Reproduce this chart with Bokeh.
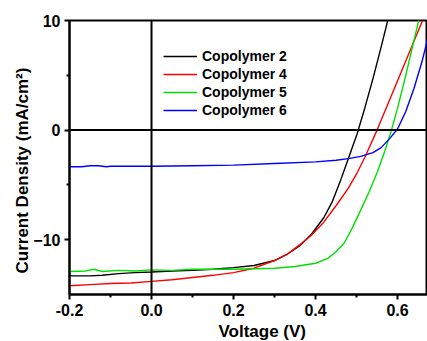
from bokeh.plotting import figure
from bokeh.models import Span, Legend, LegendItem, PrintfTickFormatter, FixedTicker, Range1d, Title
from bokeh.embed import file_html
from bokeh.resources import INLINE

# ---- data ----
x_cp2 = [-0.2, -0.15, -0.12, -0.08, -0.04, 0.0, 0.05, 0.1, 0.15, 0.2, 0.25, 0.3, 0.33, 0.36, 0.39,
         0.42, 0.44, 0.46, 0.48, 0.50, 0.52, 0.54, 0.56, 0.58]
y_cp2 = [-13.3, -13.3, -13.25, -13.1, -13.0, -12.95, -12.85, -12.8, -12.7, -12.55, -12.35, -11.9, -11.35, -10.6, -9.5,
         -8.0, -6.6, -4.7, -2.6, -0.5, 2.0, 4.7, 7.6, 10.6]

x_cp4 = [-0.2, -0.15, -0.1, -0.05, 0.0, 0.05, 0.1, 0.15, 0.2, 0.25, 0.3, 0.33, 0.36, 0.39, 0.42,
         0.45, 0.48, 0.50, 0.52, 0.55, 0.58, 0.60, 0.62, 0.64, 0.66, 0.675]
y_cp4 = [-14.2, -14.1, -14.0, -13.95, -13.8, -13.65, -13.45, -13.25, -13.0, -12.6, -11.9, -11.35, -10.5, -9.6, -8.4,
         -6.9, -5.3, -4.0, -2.5, 0.0, 2.7, 4.5, 6.3, 8.1, 9.9, 11.2]

x_cp5 = [-0.2, -0.16, -0.14, -0.12, -0.08, -0.04, 0.0, 0.05, 0.1, 0.2, 0.25, 0.3, 0.35, 0.4, 0.43,
         0.45, 0.47, 0.49, 0.51, 0.53, 0.55, 0.57, 0.585, 0.60, 0.62, 0.64, 0.655]
y_cp5 = [-12.9, -12.85, -12.7, -12.9, -12.8, -12.85, -12.75, -12.8, -12.7, -12.7, -12.65, -12.6, -12.45, -12.15, -11.7,
         -11.1, -10.3, -8.9, -7.3, -5.7, -3.9, -1.8, 0.0, 2.0, 5.0, 8.2, 10.5]

x_cp6 = [-0.2, -0.17, -0.15, -0.13, -0.11, -0.1, 0.0, 0.1, 0.2, 0.3, 0.4, 0.45, 0.48, 0.51, 0.54,
         0.56, 0.58, 0.60, 0.62, 0.64, 0.66, 0.675]
y_cp6 = [-3.35, -3.35, -3.25, -3.25, -3.35, -3.3, -3.3, -3.25, -3.2, -3.05, -2.9, -2.75, -2.6, -2.4, -2.05,
         -1.6, -0.8, 0.1, 1.7, 3.8, 6.3, 8.6]

series_names = ["Copolymer 2", "Copolymer 4", "Copolymer 5", "Copolymer 6"]
series_colors = ["#000000", "#ff0000", "#00e000", "#0000ff"]

x_ticks = [-0.2, 0.0, 0.2, 0.4, 0.6]
y_ticks = [-10, 0, 10]
x_title = "Voltage (V)"
y_title = "Current Density (mA/cm\u00b2)"

FONT = "Liberation Sans"

p = figure(width=427, height=341, output_backend="svg", toolbar_location=None,
           x_range=Range1d(-0.2, 0.673), y_range=Range1d(-15, 10),
           min_border_left=69, min_border_right=0, min_border_top=20, min_border_bottom=47)
p.background_fill_color = "white"
p.border_fill_color = "white"
p.outline_line_color = "black"
p.outline_line_width = 2
p.grid.visible = False

renderers = []
for xs, ys, c in zip([x_cp2, x_cp4, x_cp5, x_cp6], [y_cp2, y_cp4, y_cp5, y_cp6], series_colors):
    renderers.append(p.line(xs, ys, line_color=c, line_width=1.4))

p.add_layout(Span(location=0, dimension="height", line_color="black", line_width=2))
p.add_layout(Span(location=0, dimension="width", line_color="black", line_width=2))

legend = Legend(items=[LegendItem(label=n, renderers=[r]) for n, r in zip(series_names, renderers)],
                location=(94, 175), border_line_color=None, background_fill_alpha=0,
                padding=0, margin=0, spacing=0, glyph_width=34, glyph_height=18,
                label_height=18, label_standoff=5,
                label_text_font=FONT, label_text_font_style="bold", label_text_font_size="14px",
                label_text_color="black")
p.add_layout(legend)

for ax in (p.xaxis[0], p.yaxis[0]):
    ax.axis_line_width = 2
    ax.axis_line_color = "black"
    ax.major_tick_line_width = 2
    ax.minor_tick_line_width = 2
    ax.major_tick_out = 5
    ax.major_tick_in = 0
    ax.minor_tick_out = 3
    ax.minor_tick_in = 0
    ax.major_label_text_font = FONT
    ax.major_label_text_font_style = "bold"
    ax.major_label_text_font_size = "16px"
    ax.major_label_text_color = "black"

p.xaxis[0].ticker = FixedTicker(ticks=x_ticks, minor_ticks=[-0.1, 0.1, 0.3, 0.5])
p.yaxis[0].ticker = FixedTicker(ticks=y_ticks, minor_ticks=[-5, 5])
p.xaxis[0].formatter = PrintfTickFormatter(format="%.1f")
p.xaxis[0].major_label_standoff = 4
p.yaxis[0].major_label_standoff = 4

# axis titles (offset along the axis like the reference)
p.add_layout(Title(text=x_title, align="left", offset=149, standoff=2,
                   text_font=FONT, text_font_style="bold", text_font_size="17px",
                   text_color="black"), "below")
p.add_layout(Title(text=y_title, align="left", offset=21, standoff=-3,
                   text_font=FONT, text_font_style="bold", text_font_size="17px",
                   text_color="black"), "left")

open("out.html", "w").write(file_html(p, INLINE))
